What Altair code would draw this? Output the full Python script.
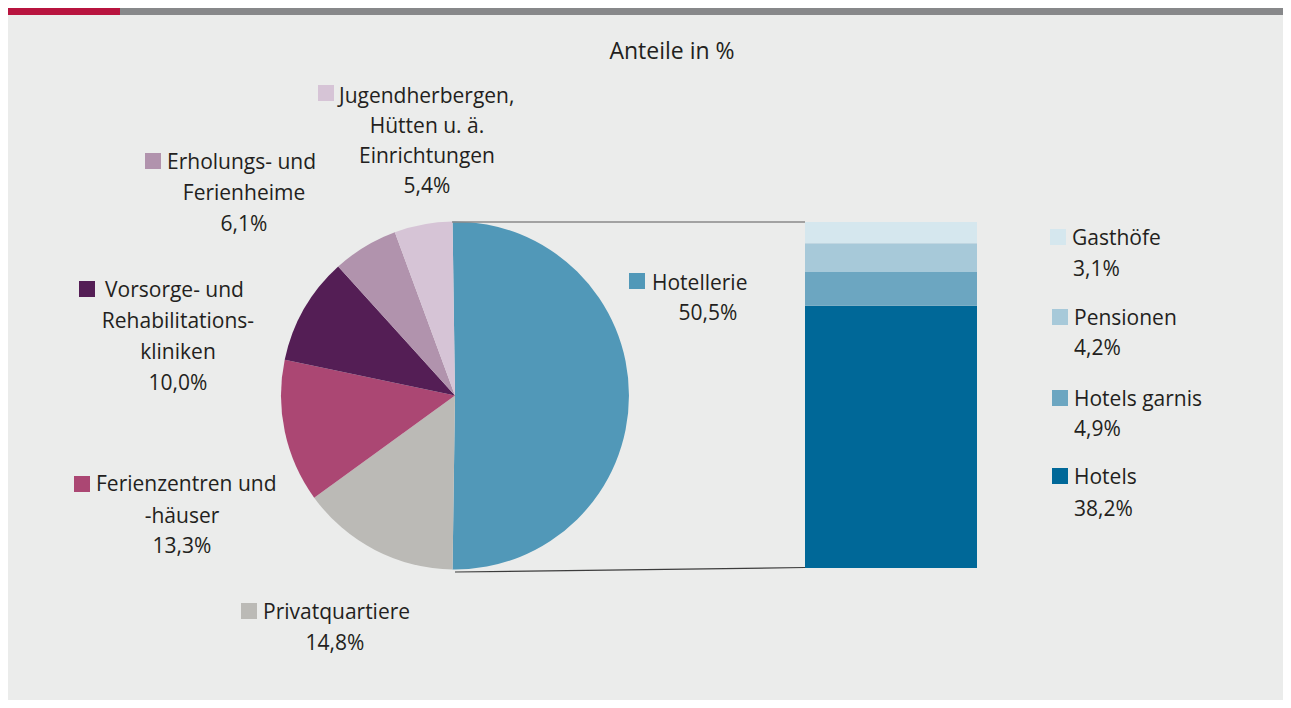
import math
import altair as alt
import pandas as pd

# ---------------- data ----------------
pie_cats = [
    "Hotellerie",
    "Privatquartiere",
    "Ferienzentren und -häuser",
    "Vorsorge- und Rehabilitationskliniken",
    "Erholungs- und Ferienheime",
    "Jugendherbergen, Hütten u. ä. Einrichtungen",
]
pie_vals = [50.5, 14.8, 13.3, 10.0, 6.1, 5.4]
pie_label_lines = [
    ["Hotellerie"],
    ["Privatquartiere"],
    ["Ferienzentren und", "-häuser"],
    ["Vorsorge- und", "Rehabilitations-", "kliniken"],
    ["Erholungs- und", "Ferienheime"],
    ["Jugendherbergen,", "Hütten u. ä.", "Einrichtungen"],
]

bar_cats = ["Hotels", "Hotels garnis", "Pensionen", "Gasthöfe"]
bar_vals = [38.2, 4.9, 4.2, 3.1]

title_text = "Anteile in %"

# ---------------- styles ----------------
pie_colors = ["#5198b8", "#bbbab6", "#ab4773", "#541e55", "#b193ad", "#d6c4d6"]
bar_colors = ["#006898", "#6ca6c1", "#a7c9d9", "#d5e7ee"]
FONT = "Open Sans"
FS = 21
TXT = "#231f20"
BG = "#ebeceb"
OX, OY = 8, 8  # page margin offset
DY = 1.5       # vertical text nudge

W, H = 1275, 692

# ---------------- layout (page coords) ----------------
PIE_CX, PIE_CY, PIE_R = 455, 395.5, 174
BAR_X0, BAR_X1, BAR_Y0, BAR_Y1 = 805, 977, 568, 222

pie_label_layout = [
    dict(box=(629, 273), first=(652, 282), rest_x=708, rest_y=[312], rest_align="center"),
    dict(box=(241, 603), first=(263, 611), rest_x=335, rest_y=[642], rest_align="center"),
    dict(box=(74, 476), first=(96, 483), rest_x=182, rest_y=[515, 545], rest_align="center"),
    dict(box=(79, 281), first=(105, 289), rest_x=178, rest_y=[320, 351, 382], rest_align="center"),
    dict(box=(145, 153), first=(167, 161), rest_x=244, rest_y=[192, 223], rest_align="center"),
    dict(box=(318, 85), first=(339, 95), rest_x=427, rest_y=[125, 155, 185], rest_align="center"),
]
bar_label_layout = [
    dict(box=(1052, 468), first=(1074, 476), rest_x=1074, rest_y=[508], rest_align="left"),
    dict(box=(1052, 390), first=(1074, 398), rest_x=1074, rest_y=[428], rest_align="left"),
    dict(box=(1052, 309), first=(1074, 317), rest_x=1074, rest_y=[347], rest_align="left"),
    dict(box=(1050, 229), first=(1072, 237), rest_x=1073, rest_y=[268], rest_align="left"),
]


def fmt(v):
    return f"{v:.1f}".replace(".", ",") + "%"


def px(x):
    return x - OX


def py(y):
    return y - OY


one = alt.Data(values=[{"a": 1}])

all_cats = pie_cats + bar_cats
all_colors = pie_colors + bar_colors
color_scale = alt.Scale(domain=all_cats, range=all_colors)

layers = []

# top strip
layers.append(
    alt.Chart(one).mark_rect(color="#b8143f").encode(
        x=alt.value(0), x2=alt.value(px(120)), y=alt.value(0), y2=alt.value(7)
    )
)
layers.append(
    alt.Chart(one).mark_rect(color="#87888a").encode(
        x=alt.value(px(120)), x2=alt.value(W), y=alt.value(0), y2=alt.value(7)
    )
)

# pie
pie_df = pd.DataFrame({"cat": pie_cats, "value": pie_vals, "idx": list(range(len(pie_cats)))})
total = sum(pie_vals)
start = math.pi / 2 - pie_vals[0] / total * math.pi
layers.append(
    alt.Chart(pie_df).mark_arc(outerRadius=PIE_R).encode(
        theta=alt.Theta(
            "value:Q",
            stack=True,
            scale=alt.Scale(domain=[0, total], range=[start, start + 2 * math.pi]),
        ),
        color=alt.Color("cat:N", scale=color_scale, legend=None),
        order=alt.Order("idx:Q"),
        x=alt.value(px(PIE_CX)),
        y=alt.value(py(PIE_CY)),
    )
)

# connector lines
layers.append(
    alt.Chart(one).mark_rule(color="#8a8a8a", strokeWidth=1.3).encode(
        x=alt.value(px(452)), x2=alt.value(px(BAR_X0)), y=alt.value(py(222)), y2=alt.value(py(222))
    )
)
layers.append(
    alt.Chart(one).mark_rule(color="#3c3c3c", strokeWidth=1.2).encode(
        x=alt.value(px(455)), x2=alt.value(px(BAR_X0)), y=alt.value(py(572)), y2=alt.value(py(567.5))
    )
)

# stacked bar
bar_df = pd.DataFrame({"cat": bar_cats, "value": bar_vals, "idx": list(range(len(bar_cats)))})
layers.append(
    alt.Chart(bar_df)
    .transform_stack(stack="value", groupby=[], as_=["v0", "v1"], sort=[alt.SortField("idx", order="ascending")])
    .mark_rect()
    .encode(
        x=alt.value(px(BAR_X0)),
        x2=alt.value(px(BAR_X1)),
        y=alt.Y(
            "v0:Q",
            scale=alt.Scale(domain=[0, sum(bar_vals)], range=[py(BAR_Y0), py(BAR_Y1)]),
            axis=None,
        ),
        y2="v1:Q",
        color=alt.Color("cat:N", scale=color_scale, legend=None),
    )
)


def text_layer(txt, x, y, align, size=FS):
    return alt.Chart(one).mark_text(
        font=FONT, fontSize=size, color=TXT, align=align, baseline="middle"
    ).encode(x=alt.value(px(x)), y=alt.value(py(y + DY)), text=alt.value(txt))


# title
layers.append(text_layer(title_text, 672, 50, "center", size=23))


def add_labels(lines_list, vals, colors, layouts):
    for lines, v, c, lay in zip(lines_list, vals, colors, layouts):
        bx, by = lay["box"]
        layers.append(
            alt.Chart(one).mark_rect(color=c).encode(
                x=alt.value(px(bx)), x2=alt.value(px(bx + 16)),
                y=alt.value(py(by)), y2=alt.value(py(by + 16)),
            )
        )
        fx, fy = lay["first"]
        layers.append(text_layer(lines[0], fx, fy, "left"))
        rest = lines[1:] + [fmt(v)]
        for t, ry in zip(rest, lay["rest_y"]):
            layers.append(text_layer(t, lay["rest_x"], ry, lay["rest_align"]))


add_labels(pie_label_lines, pie_vals, pie_colors, pie_label_layout)
add_labels([[c] for c in bar_cats], bar_vals, bar_colors, bar_label_layout)

chart = (
    alt.layer(*layers)
    .properties(
        width=W,
        height=H,
        background=BG,
        padding=0,
        autosize=alt.AutoSizeParams(type="fit", contains="padding"),
    )
    .configure_view(strokeWidth=0)
)

chart.save("out.html", embed_options={"renderer": "svg", "actions": False})
